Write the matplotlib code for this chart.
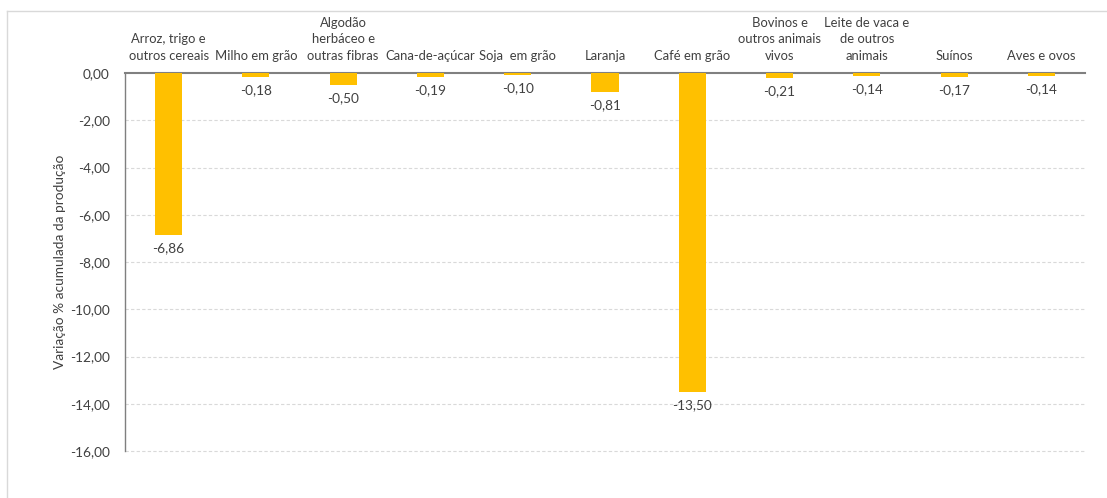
import matplotlib
matplotlib.use("Agg")
import matplotlib.pyplot as plt
from matplotlib.ticker import FuncFormatter
from matplotlib.lines import Line2D

plt.rcParams['font.family'] = ['Lato', 'DejaVu Sans']

categorias = [
    "Arroz, trigo e\noutros cereais",
    "Milho em grão",
    "Algodão\nherbáceo e\noutras fibras",
    "Cana-de-açúcar",
    "Soja  em grão",
    "Laranja",
    "Café em grão",
    "Bovinos e\noutros animais\nvivos",
    "Leite de vaca e\nde outros\nanimais",
    "Suínos",
    "Aves e ovos",
]
variacao = [-6.86, -0.18, -0.50, -0.19, -0.10, -0.81, -13.50, -0.21, -0.14, -0.17, -0.14]
y_ticks = [0, -2, -4, -6, -8, -10, -12, -14, -16]

cor_barra = "#FFC000"
cor_texto = "#404040"

W, H = 1107, 498
fig = plt.figure(figsize=(W / 100, H / 100), dpi=100)
ax = fig.add_axes([125 / W, 1 - 451 / H, 960 / W, 378 / H])

x = list(range(len(categorias)))
ax.bar(x, variacao, width=0.31, color=cor_barra, zorder=3)

ax.set_xlim(-0.5, len(categorias) - 0.5)
ax.set_ylim(-16, 0)
ax.set_yticks(y_ticks)
ax.yaxis.set_major_formatter(FuncFormatter(lambda v, p: f"{v:.2f}".replace(".", ",").replace("-0,00", "0,00")))
ax.tick_params(axis='y', length=0, pad=11, labelsize=9.8, labelcolor=cor_texto)
ax.set_xticks([])

for t in y_ticks[1:]:
    ax.axhline(t, color="#D9D9D9", lw=0.8, ls=(0, (3, 2)), zorder=1, clip_on=False)

for s in ("right", "bottom"):
    ax.spines[s].set_visible(False)
ax.spines["top"].set_color("#808080")
ax.spines["top"].set_linewidth(1.5)
ax.spines["left"].set_color("#7F7F7F")
ax.spines["left"].set_linewidth(1.0)

# rótulos das categorias acima da linha do zero
for xi, nome in zip(x, categorias):
    ax.annotate(nome, xy=(xi, 0), xytext=(0, 8), textcoords="offset points",
                ha="center", va="bottom", fontsize=9.4, color=cor_texto,
                linespacing=1.45, annotation_clip=False)

# valores abaixo de cada barra
for xi, v in zip(x, variacao):
    ax.annotate(f"{v:.2f}".replace(".", ","), xy=(xi, v), xytext=(0, -5),
                textcoords="offset points", ha="center", va="top",
                fontsize=9.8, color=cor_texto, zorder=4)

ax.set_ylabel("Variação % acumulada da produção", fontsize=9.8, color=cor_texto, labelpad=3)

# moldura externa do gráfico
fig.add_artist(Line2D([7 / W, 7 / W], [0, 1 - 11 / H], transform=fig.transFigure, color="#D9D9D9", lw=1))
fig.add_artist(Line2D([7 / W, 1], [1 - 11 / H, 1 - 11 / H], transform=fig.transFigure, color="#D9D9D9", lw=1))

fig.savefig("out.png", dpi=100, facecolor="white")
